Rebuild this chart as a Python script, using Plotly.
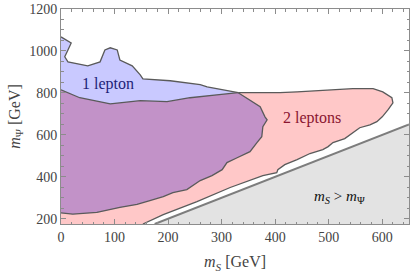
import plotly.graph_objects as go

X_RANGE = [0, 650]
Y_RANGE = [175, 1200]

# Boundary of the 1-lepton region above the overlap (from left edge to junction)
blue_top_x = [0, 19, 13, 7, 13, 50, 73, 82, 92, 105, 110, 133, 148, 153, 204, 260, 273, 331]
blue_top_y = [1067, 1038, 1005, 972, 948, 929, 948, 1005, 1015, 1005, 957, 929, 886, 867, 858, 839, 829, 801]

# Inner boundary of the 1-lepton region (from junction down to left edge)
blue_in_x = [331, 353, 372, 381, 385, 377, 375, 366, 353, 329, 310, 301, 282, 260, 235, 209, 191, 166, 142, 110, 67, 22, 0]
blue_in_y = [801, 767, 734, 686, 672, 639, 591, 563, 520, 491, 468, 434, 406, 382, 339, 325, 306, 287, 268, 254, 230, 222, 228]

# Upper boundary of the 2-lepton region left of the junction
pink_top_x = [0, 35, 92, 148, 198, 241, 291, 331]
pink_top_y = [815, 777, 748, 763, 758, 777, 791, 801]

# Rest of the 2-lepton boundary (junction -> right tip -> lower edge -> bottom)
pink_rest_x = [331, 409, 441, 545, 583, 601, 618, 620, 611, 600, 590, 577, 558, 545, 530, 508, 499, 489,
               465, 441, 418, 405, 403, 377, 316, 254, 191, 153]
pink_rest_y = [801, 801, 805, 820, 820, 805, 777, 753, 720, 686, 663, 648, 634, 610, 582, 563, 544, 530,
               511, 482, 458, 434, 420, 406, 349, 282, 220, 175]

x_ticks = [0, 100, 200, 300, 400, 500, 600]
y_ticks = [200, 400, 600, 800, 1000, 1200]

PINK = "#ffc8c8"
BLUE = "#c9c9ff"
PURPLE = "#c292c8"
EDGE = "#5a5a5a"

fig = go.Figure()

# kinematically forbidden region m_S > m_Psi
fig.add_trace(go.Scatter(
    x=[Y_RANGE[0], X_RANGE[1], X_RANGE[1], Y_RANGE[0]],
    y=[Y_RANGE[0], X_RANGE[1], Y_RANGE[0], Y_RANGE[0]],
    fill="toself", fillcolor="#e3e3e3", mode="none", hoverinfo="skip", showlegend=False))
fig.add_trace(go.Scatter(
    x=[Y_RANGE[0], X_RANGE[1]], y=[Y_RANGE[0], X_RANGE[1]],
    mode="lines", line=dict(color="#7d7d7d", width=2), hoverinfo="skip", showlegend=False))

# 2-lepton region
px = pink_top_x + pink_rest_x[1:] + [0, 0]
py = pink_top_y + pink_rest_y[1:] + [Y_RANGE[0], pink_top_y[0]]
fig.add_trace(go.Scatter(x=px, y=py, fill="toself", fillcolor=PINK, mode="none",
                         hoverinfo="skip", showlegend=False))

# 1-lepton region
bx = blue_top_x + blue_in_x[1:] + [0]
by = blue_top_y + blue_in_y[1:] + [blue_top_y[0]]
fig.add_trace(go.Scatter(x=bx, y=by, fill="toself", fillcolor=BLUE, mode="none",
                         hoverinfo="skip", showlegend=False))

# overlap
ox = pink_top_x + blue_in_x[1:] + [0]
oy = pink_top_y + blue_in_y[1:] + [pink_top_y[0]]
fig.add_trace(go.Scatter(x=ox, y=oy, fill="toself", fillcolor=PURPLE, mode="none",
                         hoverinfo="skip", showlegend=False))

# outlines
for xs, ys in [(blue_top_x, blue_top_y), (blue_in_x, blue_in_y),
               (pink_top_x, pink_top_y), (pink_rest_x, pink_rest_y)]:
    fig.add_trace(go.Scatter(x=xs, y=ys, mode="lines", line=dict(color=EDGE, width=1.3),
                             hoverinfo="skip", showlegend=False))

FONT = "Liberation Serif"
fig.add_annotation(x=88, y=843, text="1 lepton", showarrow=False,
                   font=dict(family=FONT, size=16, color="#1e1e78"))
fig.add_annotation(x=469, y=682, text="2 leptons", showarrow=False,
                   font=dict(family=FONT, size=16, color="#8a1530"))
fig.add_annotation(x=521, y=306, text="<i>m</i><sub><i>S</i></sub> > <i>m</i><sub>Ψ</sub>",
                   showarrow=False, font=dict(family=FONT, size=15, color="#111111"))

axis_common = dict(showgrid=False, zeroline=False, showline=True, linecolor="#8c8c8c", linewidth=1,
                   mirror="allticks", ticks="inside", ticklen=5, tickcolor="#8c8c8c", automargin=False,
                   tickfont=dict(family=FONT, size=14, color="#444444"))

fig.update_xaxes(range=X_RANGE, tickvals=x_ticks, ticktext=[str(v) for v in x_ticks],
                 minor=dict(dtick=20, tick0=0, ticks="inside", ticklen=2.5, tickcolor="#8c8c8c"),
                 title=dict(text="<i>m</i><sub><i>S</i></sub> [GeV]",
                            font=dict(family=FONT, size=16, color="#444444"), standoff=12),
                 **axis_common)
fig.update_yaxes(range=Y_RANGE, tickvals=y_ticks, ticktext=[str(v) for v in y_ticks],
                 minor=dict(dtick=50, tick0=0, ticks="inside", ticklen=2.5, tickcolor="#8c8c8c"),
                 title=dict(text="<i>m</i><sub>Ψ</sub> [GeV]",
                            font=dict(family=FONT, size=16, color="#444444"), standoff=4),
                 **axis_common)

fig.update_layout(width=415, height=276, margin=dict(l=61, r=6, t=9, b=52),
                  paper_bgcolor="white", plot_bgcolor="white",
                  font=dict(family=FONT))

fig.write_html("out.html", config={"displayModeBar": False},
               post_script="document.body.style.margin='0';document.body.style.overflow='hidden';")
